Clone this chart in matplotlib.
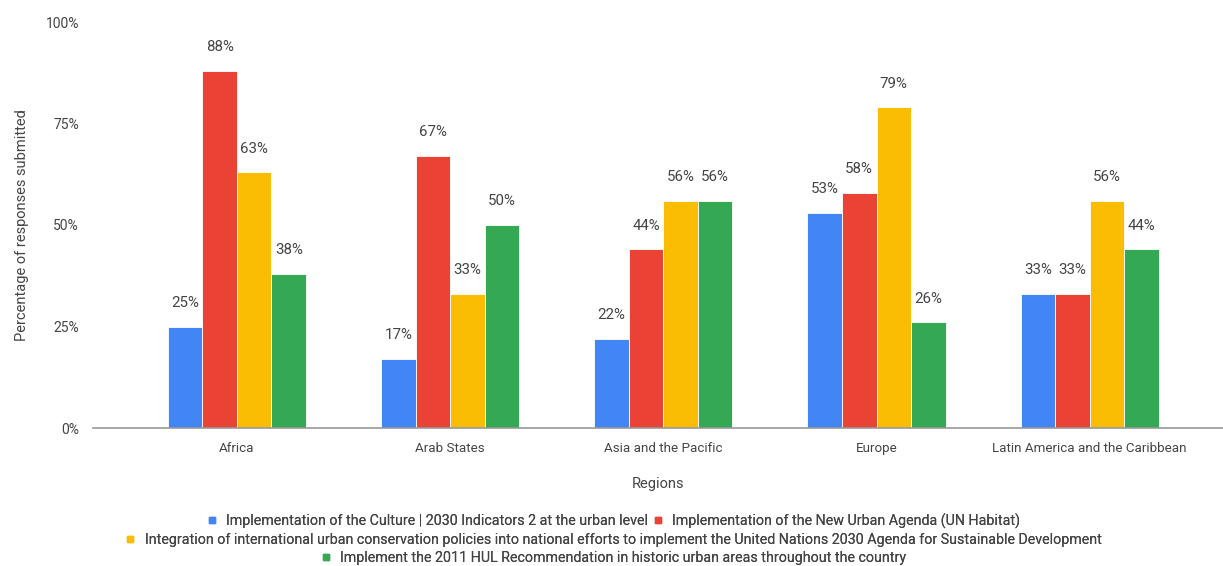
import numpy as np
import matplotlib.pyplot as plt
from matplotlib.lines import Line2D

plt.rcParams['font.family'] = ['Roboto', 'DejaVu Sans']

# Data
regions = ["Africa", "Arab States", "Asia and the Pacific", "Europe",
           "Latin America and the Caribbean"]
series_names = [
    "Implementation of the Culture | 2030 Indicators 2 at the urban level",
    "Implementation of the New Urban Agenda (UN Habitat)",
    "Integration of international urban conservation policies into national efforts to implement the United Nations 2030 Agenda for Sustainable Development",
    "Implement the 2011 HUL Recommendation in historic urban areas throughout the country",
]
culture_2030 = [25, 17, 22, 53, 33]
new_urban_agenda = [88, 67, 44, 58, 33]
integration = [63, 33, 56, 79, 56]
hul_2011 = [38, 50, 56, 26, 44]
yticks = [0, 25, 50, 75, 100]

values = [culture_2030, new_urban_agenda, integration, hul_2011]
colors = ["#4285F4", "#EA4335", "#FBBC04", "#34A853"]
text_color = "#444444"

fig = plt.figure(figsize=(12.23, 5.66), dpi=100)
ax = fig.add_axes([93 / 1223, 138 / 566, 1 - 93 / 1223, 406 / 566])

x = np.arange(len(regions))
w = 0.162
for i, (vals, c) in enumerate(zip(values, colors)):
    pos = x + (i - 1.5) * w
    ax.bar(pos, vals, width=w, color=c, edgecolor="white", linewidth=0.6, zorder=2)
    for p, v in zip(pos, vals):
        ax.annotate(f"{v}%", (p, v), xytext=(0, 12), textcoords="offset points",
                    ha="center", va="bottom", fontsize=10.8, color=text_color)

ax.set_xlim(-0.675, 4.625)
ax.set_ylim(0, 100)
ax.set_yticks(yticks)
ax.set_yticklabels([f"{t}%" for t in yticks], fontsize=10, color=text_color)
ax.set_xticks(x)
ax.set_xticklabels(regions, fontsize=9.6, color=text_color)
ax.tick_params(length=0, pad=10)
ax.tick_params(axis="y", pad=10)
for s in ["top", "right", "left"]:
    ax.spines[s].set_visible(False)
ax.spines["bottom"].set_color("#999999")
ax.spines["bottom"].set_linewidth(1.2)

ax.set_xlabel("Regions", fontsize=10.5, color=text_color, labelpad=16)
ax.set_ylabel("Percentage of responses submitted", fontsize=10.5, color=text_color, labelpad=12)

def handle(c):
    return Line2D([], [], marker="s", linestyle="", color=c, markersize=5)

rows = [([0, 1], 521), ([2], 540), ([3], 558)]
for idx, ypix in rows:
    leg = fig.legend([handle(colors[k]) for k in idx], [series_names[k] for k in idx],
                     loc="center", bbox_to_anchor=(613 / 1223, 1 - ypix / 566),
                     ncol=len(idx), frameon=False, fontsize=10.3, handlelength=0.8,
                     handletextpad=0.6, columnspacing=0.3, borderpad=0, labelcolor=text_color)
    fig.add_artist(leg)

fig.savefig("out.png", dpi=100)
